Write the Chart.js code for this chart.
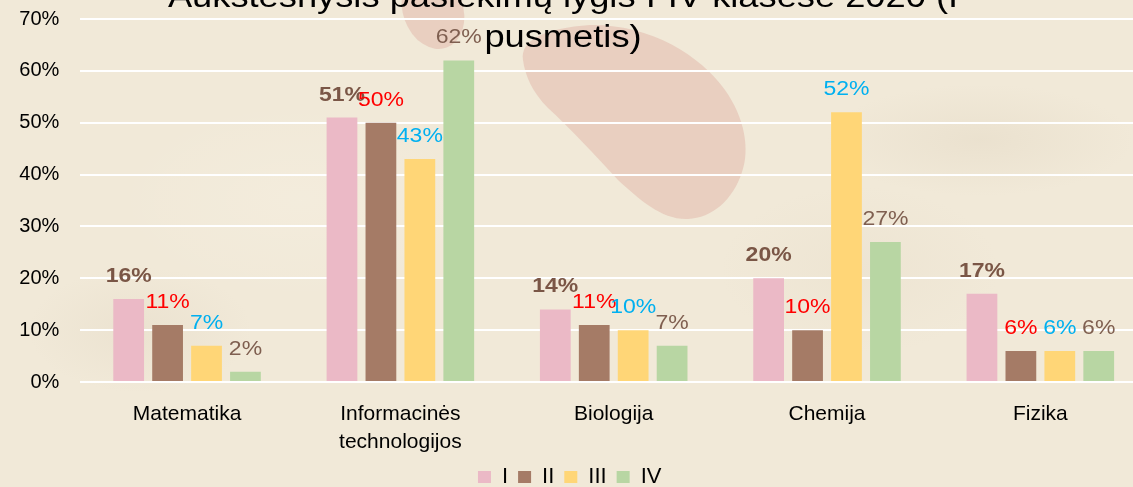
<!DOCTYPE html>
<html lang="lt">
<head>
<meta charset="utf-8">
<title>Aukštesnysis pasiekimų lygis</title>
<script src="https://cdn.jsdelivr.net/npm/chart.js@4/dist/chart.umd.min.js"></script>
<style>
    html, body {
        margin: 0;
        padding: 0;
        width: 1133px;
        height: 487px;
        overflow: hidden;
        background-color: #f1e9d8;
        background-image:
            radial-gradient(ellipse 160px 90px at 140px 330px, rgba(200, 185, 160, 0.14), rgba(200, 185, 160, 0) 70%),
            radial-gradient(ellipse 220px 80px at 980px 140px, rgba(205, 190, 165, 0.18), rgba(205, 190, 165, 0) 70%),
            radial-gradient(ellipse 200px 120px at 860px 270px, rgba(210, 195, 170, 0.12), rgba(210, 195, 170, 0) 70%),
            radial-gradient(ellipse 260px 140px at 300px 200px, rgba(255, 250, 240, 0.18), rgba(255, 250, 240, 0) 70%);
    }
    .chart-box {
        position: relative;
        width: 1147px;
        height: 487px;
    }
</style>
</head>
<body>
<div class="chart-box">
    <canvas id="levelsChart"></canvas>
</div>
<script>
const subjects = ['Matematika', ['Informacinės', 'technologijos'], 'Biologija', 'Chemija', 'Fizika'];
const levelI = [16, 51, 14, 20, 17];
const levelII = [11, 50, 11, 10, 6];
const levelIII = [7, 43, 10, 52, 6];
const levelIV = [2, 62, 7, 27, 6];
const seriesNames = ['I', 'II', 'III', 'IV'];
const titleLines = ['Aukštesnysis pasiekimų lygis I-IV klasėse 2020 (I', 'pusmetis)'];

const barColors = ['#ebb9c6', '#a57b66', '#ffd677', '#b8d6a3'];
const labelStyles = [
    { color: '#7a5646', weight: 'bold' },
    { color: '#ff0000', weight: 'normal' },
    { color: '#00b0f0', weight: 'normal' },
    { color: '#7f5f50', weight: 'normal' }
];
const FONT = '"Liberation Sans", Arial, sans-serif';

Chart.defaults.font.family = FONT;
Chart.defaults.color = '#000';

// pale blob shapes behind the plot
const backdrop = {
    id: 'backdrop',
    beforeDraw(chart) {
        const ctx = chart.ctx;
        ctx.save();
        ctx.fillStyle = 'rgba(228, 190, 178, 0.62)';

        ctx.beginPath();
        ctx.ellipse(433, 10, 30, 40, -0.35, 0, Math.PI * 2);
        ctx.fill();

        ctx.beginPath();
        ctx.moveTo(523, 60);
        ctx.bezierCurveTo(520, 40, 545, 28, 590, 25);
        ctx.bezierCurveTo(650, 24, 700, 55, 725, 90);
        ctx.bezierCurveTo(745, 118, 750, 150, 742, 172);
        ctx.bezierCurveTo(733, 200, 712, 218, 688, 219);
        ctx.bezierCurveTo(662, 220, 640, 200, 618, 180);
        ctx.bezierCurveTo(595, 155, 570, 128, 548, 108);
        ctx.bezierCurveTo(532, 92, 525, 75, 523, 60);
        ctx.closePath();
        ctx.fill();
        ctx.restore();
    },
    afterLayout(chart) {
        // legend sits a little left of centre and close to the bottom edge
        const lg = chart.legend;
        lg.left -= 13;
        lg.right -= 13;
        lg.top += 11;
        lg.bottom += 11;
        // two-line category label runs past the axis box, don't clip it
        chart.scales.x.bottom = chart.height;
    }
};

// percentage above every bar, coloured per series
const valueLabels = {
    id: 'valueLabels',
    afterDatasetsDraw(chart) {
        const ctx = chart.ctx;
        chart.data.datasets.forEach((ds, i) => {
            const meta = chart.getDatasetMeta(i);
            const style = labelStyles[i];
            meta.data.forEach((bar, j) => {
                ctx.save();
                ctx.font = style.weight + ' 20px ' + FONT;
                ctx.fillStyle = style.color;
                ctx.textAlign = 'center';
                ctx.textBaseline = 'alphabetic';
                ctx.translate(bar.x, bar.y - 17);
                ctx.scale(1.15, 1);
                ctx.fillText(ds.data[j] + '%', 0, 0);
                ctx.restore();
            });
        });
    }
};

// heading sits over the top of the plot
const heading = {
    id: 'heading',
    afterDraw(chart) {
        const ctx = chart.ctx;
        ctx.save();
        ctx.font = '31px ' + FONT;
        ctx.fillStyle = '#000';
        ctx.textAlign = 'center';
        ctx.textBaseline = 'alphabetic';
        titleLines.forEach((line, k) => {
            ctx.save();
            ctx.translate(563, 7 + k * 40);
            ctx.scale(1.17, 1);
            ctx.fillText(line, 0, 0);
            ctx.restore();
        });
        ctx.restore();
    }
};

const ctx = document.getElementById('levelsChart').getContext('2d');
new Chart(ctx, {
    type: 'bar',
    data: {
        labels: subjects,
        datasets: [levelI, levelII, levelIII, levelIV].map((values, i) => ({
            label: seriesNames[i],
            data: values,
            backgroundColor: barColors[i],
            borderWidth: 0,
            categoryPercentage: 0.73,
            barPercentage: 0.79
        }))
    },
    options: {
        responsive: true,
        maintainAspectRatio: false,
        animation: false,
        layout: {
            padding: { left: 18.4, right: 0, top: 19, bottom: 0 }
        },
        scales: {
            x: {
                afterFit(scale) {
                    scale.height = 63;
                },
                grid: { display: false, drawTicks: false },
                border: { display: false },
                ticks: {
                    color: '#000',
                    padding: 19,
                    font: { size: 21, lineHeight: 1.3 },
                    maxRotation: 0,
                    autoSkip: false
                }
            },
            y: {
                min: 0,
                max: 70,
                afterFit(scale) {
                    scale.width = 62;
                },
                grid: {
                    color: '#ffffff',
                    lineWidth: 2,
                    drawTicks: true,
                    tickLength: 18,
                    tickColor: 'rgba(0, 0, 0, 0)'
                },
                border: { display: false },
                ticks: {
                    stepSize: 10,
                    padding: 3,
                    color: '#000',
                    font: { size: 20 },
                    callback: (v) => v + '%'
                }
            }
        },
        plugins: {
            title: { display: false },
            tooltip: { enabled: false },
            legend: {
                position: 'bottom',
                labels: {
                    boxWidth: 13,
                    boxHeight: 12,
                    padding: 10,
                    color: '#000',
                    font: { size: 22, lineHeight: 1.0 }
                }
            }
        }
    },
    plugins: [backdrop, valueLabels, heading]
});
</script>
</body>
</html>
